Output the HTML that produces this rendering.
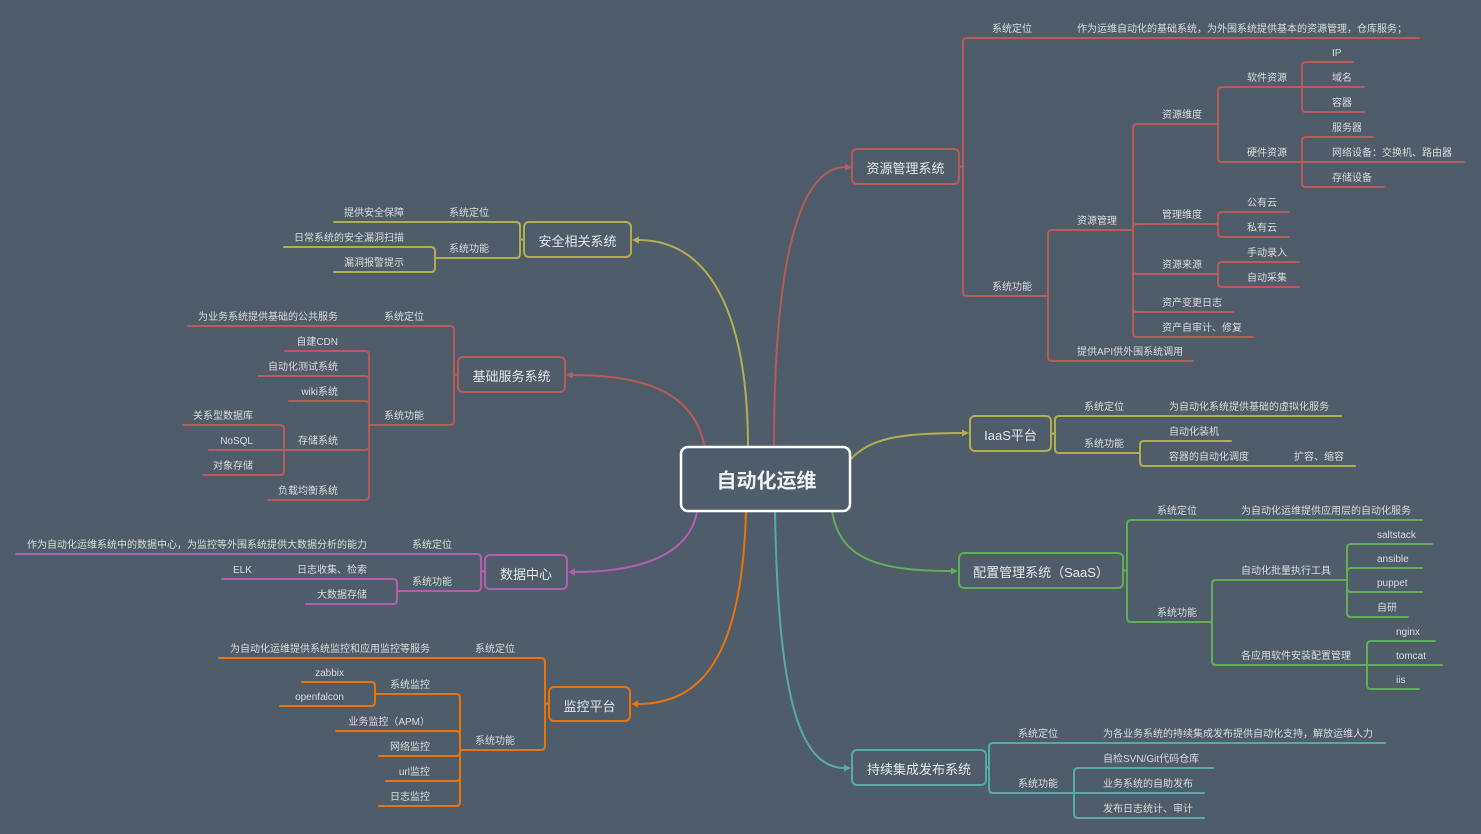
<!DOCTYPE html>
<html>
<head>
<meta charset="utf-8">
<style>
html,body{margin:0;padding:0;background:#4f5d6a;}
svg{display:block;}
text{font-family:"Liberation Sans","Noto Sans CJK SC","WenQuanYi Zen Hei",sans-serif;dominant-baseline:central;}
.s{font-size:10px;fill:#dadada;transform:translateY(1.5px);}
.e{text-anchor:end;}
.b{font-size:13px;fill:#e6e6e6;text-anchor:middle;transform:translateY(1.5px);}
.ln{fill:none;stroke-width:2;stroke-linecap:round;stroke-linejoin:round;}
.bx{fill:#4f5d6a;stroke-width:2;}
</style>
</head>
<body>
<svg width="1481" height="834" viewBox="0 0 1481 834" xmlns="http://www.w3.org/2000/svg">
<rect width="1481" height="834" fill="#4f5d6a"/>

<!-- main curves -->
<g class="ln">
<path stroke="#b65a5a" d="M774 448 C774 285 793 167 846 167"/>
<path stroke="#b3ad50" d="M748 448 C748 330 718 240 638 240"/>
<path stroke="#b65a5a" d="M705 448 C695 395 650 375 572 375"/>
<path stroke="#b15eb1" d="M697 511 C690 555 640 572 574 572"/>
<path stroke="#e8720c" d="M746 511 C742 660 700 704 637 704"/>
<path stroke="#56aaa6" d="M775 511 C778 700 800 768 845 768"/>
<path stroke="#5fad57" d="M832 511 C840 560 880 571 952 571"/>
<path stroke="#b3ad50" d="M850 460 C870 438 900 433 963 433"/>
</g>
<polygon fill="#b65a5a" points="852,167 845,163.5 845,170.5"/>
<polygon fill="#b3ad50" points="632,240 639,236.5 639,243.5"/>
<polygon fill="#b65a5a" points="566,375 573,371.5 573,378.5"/>
<polygon fill="#b15eb1" points="568,572 575,568.5 575,575.5"/>
<polygon fill="#e8720c" points="631,704 638,700.5 638,707.5"/>
<polygon fill="#56aaa6" points="851,768 844,764.5 844,771.5"/>
<polygon fill="#5fad57" points="958,571 951,567.5 951,574.5"/>
<polygon fill="#b3ad50" points="969,433 962,429.5 962,436.5"/>

<!-- RED: 资源管理系统 -->
<g class="ln" stroke="#b65a5a">
<path d="M959 166.5 H963 V42 Q963 38 967 38 H1419"/>
<path d="M959 166.5 H963 V292 Q963 296 967 296 H1048"/>
<path d="M1048 296 V234 Q1048 230 1052 230 H1133"/>
<path d="M1048 296 V357 Q1048 361 1052 361 H1193"/>
<path d="M1133 230 V128 Q1133 124 1137 124 H1218"/>
<path d="M1133 230 V228 Q1133 224 1137 224 H1218"/>
<path d="M1133 230 V270 Q1133 274 1137 274 H1218"/>
<path d="M1133 230 V308 Q1133 312 1137 312 H1233"/>
<path d="M1133 230 V333 Q1133 337 1137 337 H1253"/>
<path d="M1218 124 V91 Q1218 87 1222 87 H1302"/>
<path d="M1218 124 V158 Q1218 162 1222 162 H1302"/>
<path d="M1302 87 V66 Q1302 62 1306 62 H1353"/>
<path d="M1302 87 H1364"/>
<path d="M1302 87 V108 Q1302 112 1306 112 H1364"/>
<path d="M1302 162 V141 Q1302 137 1306 137 H1373"/>
<path d="M1302 162 H1464"/>
<path d="M1302 162 V183 Q1302 187 1306 187 H1384"/>
<path d="M1218 224 V216 Q1218 212 1222 212 H1289"/>
<path d="M1218 224 V233 Q1218 237 1222 237 H1289"/>
<path d="M1218 274 V266 Q1218 262 1222 262 H1299"/>
<path d="M1218 274 V283 Q1218 287 1222 287 H1299"/>
</g>
<rect class="bx" stroke="#b65a5a" x="852" y="149" width="107" height="35" rx="5"/>
<text class="b" x="905.5" y="167">资源管理系统</text>
<text class="s" x="992" y="28">系统定位</text>
<text class="s" x="1077" y="28">作为运维自动化的基础系统，为外围系统提供基本的资源管理，仓库服务；</text>
<text class="s" x="992" y="286">系统功能</text>
<text class="s" x="1077" y="220">资源管理</text>
<text class="s" x="1077" y="351">提供API供外围系统调用</text>
<text class="s" x="1162" y="114">资源维度</text>
<text class="s" x="1162" y="214">管理维度</text>
<text class="s" x="1162" y="264">资源来源</text>
<text class="s" x="1162" y="302">资产变更日志</text>
<text class="s" x="1162" y="327">资产自审计、修复</text>
<text class="s" x="1247" y="77">软件资源</text>
<text class="s" x="1247" y="152">硬件资源</text>
<text class="s" x="1332" y="52">IP</text>
<text class="s" x="1332" y="77">域名</text>
<text class="s" x="1332" y="102">容器</text>
<text class="s" x="1332" y="127">服务器</text>
<text class="s" x="1332" y="152">网络设备：交换机、路由器</text>
<text class="s" x="1332" y="177">存储设备</text>
<text class="s" x="1247" y="202">公有云</text>
<text class="s" x="1247" y="227">私有云</text>
<text class="s" x="1247" y="252">手动录入</text>
<text class="s" x="1247" y="277">自动采集</text>

<!-- OLIVE: IaaS -->
<g class="ln" stroke="#b3ad50">
<path d="M1051 433.5 H1055 V420 Q1055 416 1059 416 H1341"/>
<path d="M1051 433.5 H1055 V449 Q1055 453 1059 453 H1140"/>
<path d="M1140 453 V445 Q1140 441 1144 441 H1231"/>
<path d="M1140 453 V462 Q1140 466 1144 466 H1355"/>
</g>
<rect class="bx" stroke="#b3ad50" x="970" y="416" width="81" height="35" rx="5"/>
<text class="b" x="1010.5" y="434">IaaS平台</text>
<text class="s" x="1084" y="406">系统定位</text>
<text class="s" x="1169" y="406">为自动化系统提供基础的虚拟化服务</text>
<text class="s" x="1084" y="443">系统功能</text>
<text class="s" x="1169" y="431">自动化装机</text>
<text class="s" x="1169" y="456">容器的自动化调度</text>
<text class="s" x="1294" y="456">扩容、缩容</text>

<!-- GREEN: 配置管理 -->
<g class="ln" stroke="#5fad57">
<path d="M1123 570.5 H1127 V524 Q1127 520 1131 520 H1422"/>
<path d="M1123 570.5 H1127 V618 Q1127 622 1131 622 H1212"/>
<path d="M1212 622 V584 Q1212 580 1216 580 H1347"/>
<path d="M1212 622 V661 Q1212 665 1216 665 H1367"/>
<path d="M1347 580 V548 Q1347 544 1351 544 H1432"/>
<path d="M1347 580 V572 Q1347 568 1351 568 H1422"/>
<path d="M1347 580 V588 Q1347 592 1351 592 H1422"/>
<path d="M1347 580 V613 Q1347 617 1351 617 H1408"/>
<path d="M1367 665 V645 Q1367 641 1371 641 H1435"/>
<path d="M1367 665 H1442"/>
<path d="M1367 665 V685 Q1367 689 1371 689 H1419"/>
</g>
<rect class="bx" stroke="#5fad57" x="959" y="553" width="164" height="35" rx="5"/>
<text class="b" x="1041" y="571">配置管理系统（SaaS）</text>
<text class="s" x="1157" y="510">系统定位</text>
<text class="s" x="1241" y="510">为自动化运维提供应用层的自动化服务</text>
<text class="s" x="1157" y="612">系统功能</text>
<text class="s" x="1241" y="570">自动化批量执行工具</text>
<text class="s" x="1241" y="655">各应用软件安装配置管理</text>
<text class="s" x="1377" y="534">saltstack</text>
<text class="s" x="1377" y="558">ansible</text>
<text class="s" x="1377" y="582">puppet</text>
<text class="s" x="1377" y="607">自研</text>
<text class="s" x="1396" y="631">nginx</text>
<text class="s" x="1396" y="655">tomcat</text>
<text class="s" x="1396" y="679">iis</text>

<!-- TEAL: 持续集成 -->
<g class="ln" stroke="#56aaa6">
<path d="M986 767.5 H989 V747 Q989 743 993 743 H1385"/>
<path d="M986 767.5 H989 V789 Q989 793 993 793 H1074"/>
<path d="M1074 793 V772 Q1074 768 1078 768 H1213"/>
<path d="M1074 793 H1204"/>
<path d="M1074 793 V814 Q1074 818 1078 818 H1204"/>
</g>
<rect class="bx" stroke="#56aaa6" x="852" y="750" width="134" height="35" rx="5"/>
<text class="b" x="919" y="768">持续集成发布系统</text>
<text class="s" x="1018" y="733">系统定位</text>
<text class="s" x="1103" y="733">为各业务系统的持续集成发布提供自动化支持，解放运维人力</text>
<text class="s" x="1018" y="783">系统功能</text>
<text class="s" x="1103" y="758">自检SVN/Git代码仓库</text>
<text class="s" x="1103" y="783">业务系统的自助发布</text>
<text class="s" x="1103" y="808">发布日志统计、审计</text>

<!-- OLIVE: 安全相关系统 -->
<g class="ln" stroke="#b3ad50">
<path d="M523 239.5 H520 V226 Q520 222 516 222 H334"/>
<path d="M523 239.5 H520 V254 Q520 258 516 258 H435"/>
<path d="M435 258 V251 Q435 247 431 247 H284"/>
<path d="M435 258 V268 Q435 272 431 272 H334"/>
</g>
<rect class="bx" stroke="#b3ad50" x="524" y="222" width="107" height="35" rx="5"/>
<text class="b" x="577.5" y="240">安全相关系统</text>
<text class="s e" x="489" y="212">系统定位</text>
<text class="s e" x="404" y="212">提供安全保障</text>
<text class="s e" x="489" y="248">系统功能</text>
<text class="s e" x="404" y="237">日常系统的安全漏洞扫描</text>
<text class="s e" x="404" y="262">漏洞报警提示</text>

<!-- RED: 基础服务系统 -->
<g class="ln" stroke="#b65a5a">
<path d="M458 374.5 H454 V330 Q454 326 450 326 H188"/>
<path d="M458 374.5 H454 V421 Q454 425 450 425 H369"/>
<path d="M369 425 V355 Q369 351 365 351 H285"/>
<path d="M369 425 V380 Q369 376 365 376 H258"/>
<path d="M369 425 V405 Q369 401 365 401 H289"/>
<path d="M369 425 V446 Q369 450 365 450 H284"/>
<path d="M369 425 V496 Q369 500 365 500 H268"/>
<path d="M284 450 V429 Q284 425 280 425 H183"/>
<path d="M284 450 H209"/>
<path d="M284 450 V471 Q284 475 280 475 H203"/>
</g>
<rect class="bx" stroke="#b65a5a" x="458" y="357" width="107" height="35" rx="5"/>
<text class="b" x="511.5" y="375">基础服务系统</text>
<text class="s e" x="424" y="316">系统定位</text>
<text class="s e" x="338" y="316">为业务系统提供基础的公共服务</text>
<text class="s e" x="424" y="415">系统功能</text>
<text class="s e" x="338" y="341">自建CDN</text>
<text class="s e" x="338" y="366">自动化测试系统</text>
<text class="s e" x="338" y="391">wiki系统</text>
<text class="s e" x="338" y="440">存储系统</text>
<text class="s e" x="338" y="490">负载均衡系统</text>
<text class="s e" x="253" y="415">关系型数据库</text>
<text class="s e" x="253" y="440">NoSQL</text>
<text class="s e" x="253" y="465">对象存储</text>

<!-- PURPLE: 数据中心 -->
<g class="ln" stroke="#b15eb1">
<path d="M485 571.5 H481 V558 Q481 554 477 554 H16"/>
<path d="M485 571.5 H481 V587 Q481 591 477 591 H397"/>
<path d="M397 591 V583 Q397 579 393 579 H222"/>
<path d="M397 591 V600 Q397 604 393 604 H306"/>
</g>
<rect class="bx" stroke="#b15eb1" x="485" y="555" width="82" height="34" rx="5"/>
<text class="b" x="526" y="573">数据中心</text>
<text class="s e" x="452" y="544">系统定位</text>
<text class="s e" x="367" y="544">作为自动化运维系统中的数据中心，为监控等外围系统提供大数据分析的能力</text>
<text class="s e" x="452" y="581">系统功能</text>
<text class="s e" x="367" y="569">日志收集、检索</text>
<text class="s" x="233" y="569">ELK</text>
<text class="s e" x="367" y="594">大数据存储</text>

<!-- ORANGE: 监控平台 -->
<g class="ln" stroke="#e8720c">
<path d="M549 703.5 H545 V662 Q545 658 541 658 H219"/>
<path d="M549 703.5 H545 V746 Q545 750 541 750 H460"/>
<path d="M460 750 V698 Q460 694 456 694 H375"/>
<path d="M460 750 V735 Q460 731 456 731 H336"/>
<path d="M460 750 V752 Q460 756 456 756 H379"/>
<path d="M460 750 V777 Q460 781 456 781 H386"/>
<path d="M460 750 V802 Q460 806 456 806 H379"/>
<path d="M375 694 V686 Q375 682 371 682 H302"/>
<path d="M375 694 V702 Q375 706 371 706 H280"/>
</g>
<rect class="bx" stroke="#e8720c" x="549" y="687" width="81" height="34" rx="5"/>
<text class="b" x="589.5" y="705">监控平台</text>
<text class="s e" x="515" y="648">系统定位</text>
<text class="s e" x="430" y="648">为自动化运维提供系统监控和应用监控等服务</text>
<text class="s e" x="515" y="740">系统功能</text>
<text class="s e" x="430" y="684">系统监控</text>
<text class="s e" x="430" y="721">业务监控（APM）</text>
<text class="s e" x="430" y="746">网络监控</text>
<text class="s e" x="430" y="771">url监控</text>
<text class="s e" x="430" y="796">日志监控</text>
<text class="s e" x="344" y="672">zabbix</text>
<text class="s e" x="344" y="696">openfalcon</text>

<!-- center -->
<rect x="681" y="447" width="169" height="64" rx="7" fill="#4f5d6a" stroke="#ffffff" stroke-width="2.5"/>
<text x="766.5" y="481.5" style="font-size:20px;fill:#f0f0f0;text-anchor:middle;font-weight:bold;">自动化运维</text>
</svg>
</body>
</html>
